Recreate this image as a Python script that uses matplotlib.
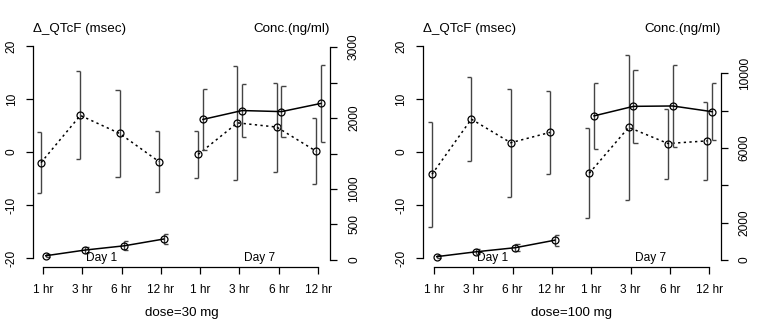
import numpy as np
import matplotlib
matplotlib.use("Agg")
import matplotlib.pyplot as plt

plt.rcParams['font.family'] = ['Liberation Sans', 'DejaVu Sans']

# ---- data -------------------------------------------------------------
hours = ["1 hr", "3 hr", "6 hr", "12 hr"]
days = ["Day 1", "Day 7"]
doses = ["dose=30 mg", "dose=100 mg"]

# change in QTcF (msec): mean and half-width of the interval, Day 1 then Day 7
qtcf_30_mean = [-2.0, 6.9, 3.5, -1.8, -0.45, 5.5, 4.7, 0.15]
qtcf_30_err = [5.8, 8.3, 8.2, 5.8, 4.4, 10.7, 8.4, 6.2]
qtcf_100_mean = [-4.2, 6.2, 1.75, 3.7, -4.0, 4.65, 1.6, 2.1]
qtcf_100_err = [9.9, 7.9, 10.2, 7.9, 8.5, 13.65, 6.6, 7.4]

# plasma concentration (ng/ml): mean and half-width, Day 1 then Day 7
conc_30_mean = [60, 140, 200, 295, 1980, 2105, 2090, 2205]
conc_30_err = [20, 40, 65, 75, 427, 376, 356, 540]
conc_100_mean = [180, 440, 660, 1060, 7720, 8230, 8250, 7945]
conc_100_err = [80, 145, 180, 285, 1780, 1945, 2195, 1515]

qtcf_ticks = [-20, -10, 0, 10, 20]
conc_30_ticks = [0, 500, 1000, 1500, 2000, 2500, 3000]
conc_30_labels = ["0", "500", "1000", "", "2000", "", "3000"]
conc_100_ticks = [0, 2000, 4000, 6000, 8000, 10000]
conc_100_labels = ["0", "2000", "", "6000", "", "10000"]

panels = [
    dict(qm=qtcf_30_mean, qe=qtcf_30_err, cm=conc_30_mean, ce=conc_30_err,
         cticks=conc_30_ticks, clabels=conc_30_labels, xlabel=doses[0],
         box=(33, 330, 40, 267), xl=(-0.2545, 7.305), cl=(-98.6, 3098.6)),
    dict(qm=qtcf_100_mean, qe=qtcf_100_err, cm=conc_100_mean, ce=conc_100_err,
         cticks=conc_100_ticks, clabels=conc_100_labels, xlabel=doses[1],
         box=(422.7, 720.7, 40, 267), xl=(-0.287, 7.29), cl=(-375, 11784)),
]

W, H = 760, 325
fig = plt.figure(figsize=(W / 100, H / 100), dpi=100)

INK = "black"
BAR = "#444444"
TICK_FS = 8.6
LAB_FS = 9.6
CAP = 0.105          # cap length in x units
OFF_Q, OFF_C = -0.05, 0.07


def ci_bars(ax, x, m, e, side):
    m = np.asarray(m, float)
    e = np.asarray(e, float)
    lo, hi = m - e, m + e
    ax.vlines(x, lo, hi, color=BAR, lw=1.0)
    ax.hlines(lo, x, x + side * CAP, color=BAR, lw=1.0)
    ax.hlines(hi, x, x + side * CAP, color=BAR, lw=1.0)


for p in panels:
    x0, x1, ytop, ybot = p["box"]
    ax = fig.add_axes([x0 / W, 1 - ybot / H, (x1 - x0) / W, (ybot - ytop) / H])
    ax.patch.set_alpha(0)
    ax.set_xlim(*p["xl"])
    ax.set_ylim((152 - ybot) / 5.3, (152 - ytop) / 5.3)
    for s in ("top", "right"):
        ax.spines[s].set_visible(False)
    ax.spines["left"].set_bounds(-20, 20)
    ax.spines["bottom"].set_bounds(0, 7)
    ax.set_yticks(qtcf_ticks)
    ax.set_yticklabels([str(t) for t in qtcf_ticks], rotation=90, va="center",
                       fontsize=TICK_FS)
    ax.set_xticks(np.arange(8))
    ax.set_xticklabels(hours * 2, fontsize=TICK_FS)
    ax.tick_params(axis="both", direction="out", length=5, width=0.9, color=INK)
    ax.tick_params(axis="y", pad=6)
    ax.tick_params(axis="x", pad=7)
    for s in ("left", "bottom"):
        ax.spines[s].set_linewidth(0.9)

    cx = fig.add_axes(ax.get_position(), sharex=ax)
    cx.patch.set_alpha(0)
    cx.set_ylim(*p["cl"])
    for s in ("top", "left", "bottom"):
        cx.spines[s].set_visible(False)
    cx.spines["right"].set_bounds(p["cticks"][0], p["cticks"][-1])
    cx.spines["right"].set_linewidth(0.9)
    cx.yaxis.tick_right()
    cx.set_yticks(p["cticks"])
    cx.set_yticklabels(p["clabels"], rotation=90, va="center", fontsize=TICK_FS)
    cx.tick_params(axis="y", direction="out", length=5, width=0.9, pad=8)
    cx.tick_params(axis="x", bottom=False, labelbottom=False)

    idx = np.arange(8)
    for d in range(2):
        sl = slice(4 * d, 4 * d + 4)
        xs = idx[sl]
        # QTcF change: dotted line, "]" shaped intervals
        ci_bars(ax, xs + OFF_Q, p["qm"][sl], p["qe"][sl], -1)
        ax.plot(xs + OFF_Q, p["qm"][sl], ls=(0, (1.5, 2.2)), lw=1.1, color=INK,
                marker="o", ms=5, mfc="none", mec=INK, mew=0.9)
        # concentration: solid line, "[" shaped intervals
        ci_bars(cx, xs + OFF_C, p["cm"][sl], p["ce"][sl], 1)
        cx.plot(xs + OFF_C, p["cm"][sl], ls="-", lw=1.1, color=INK,
                marker="o", ms=5, mfc="none", mec=INK, mew=0.9)
        ax.text(4 * d + 1.5, -20, days[d], ha="center", va="center",
                fontsize=TICK_FS)

    fig.text(x0 / W, 1 - 29 / H, "\u0394_QTcF (msec)", ha="left", va="center",
             fontsize=LAB_FS)
    fig.text(x1 / W, 1 - 29 / H, "Conc.(ng/ml)", ha="right", va="center",
             fontsize=LAB_FS)
    fig.text((x0 + x1) / 2 / W, 1 - 313 / H, p["xlabel"], ha="center",
             va="center", fontsize=LAB_FS)

fig.savefig("out.png", dpi=100)
